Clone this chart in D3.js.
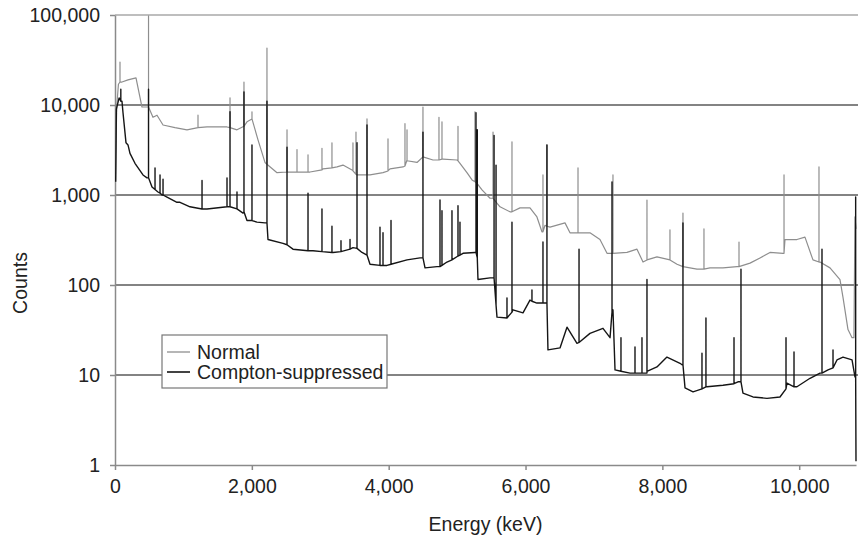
<!DOCTYPE html>
<html>
<head>
<meta charset="utf-8">
<script src="https://cdn.jsdelivr.net/npm/d3@7"></script>
<style>
  body { margin: 0; background: #fff; }
  svg text { font-family: "Liberation Sans", Arial, Helvetica, sans-serif; fill: #222; }
</style>
</head>
<body>
<svg id="chart" width="860" height="538"></svg>
<script>
// tick labels
var xTicks = [0, 2000, 4000, 6000, 8000, 10000];
var yTicks = [1, 10, 100, 1000, 10000, 100000];
var seriesNames = ["Normal", "Compton-suppressed"];

// Normal spectrum: continuum [keV, counts]
var normalCont = [
  [5, 1350], [25, 9500], [50, 17000], [102, 18000], [190, 19000], [307, 20000],
  [394, 9500], [468, 9500], [555, 7300], [614, 7700], [702, 6000], [877, 5600],
  [1052, 5300], [1345, 5700], [1637, 5700], [1783, 5300], [1929, 6500], [2002, 7000],
  [2090, 4100], [2192, 2300], [2368, 1770], [2558, 1800], [2850, 1800], [3040, 1950],
  [3245, 2050], [3332, 2150], [3464, 1900], [3537, 1670], [3727, 1670], [3917, 1770],
  [4019, 1950], [4209, 2050], [4268, 2450], [4414, 2300], [4501, 2650], [4648, 2450],
  [4794, 2500], [4998, 2450], [5042, 2250], [5144, 1770], [5218, 1470], [5291, 1350],
  [5364, 1140], [5481, 920], [5525, 920], [5627, 740], [5773, 650], [5919, 720],
  [6065, 720], [6167, 570], [6240, 390], [6284, 460], [6358, 440], [6577, 490],
  [6650, 380], [6942, 380], [7088, 320], [7191, 225], [7278, 225], [7483, 230],
  [7629, 250], [7717, 180], [7921, 205], [8111, 190], [8214, 170], [8506, 150],
  [8696, 155], [8886, 155], [9091, 160], [9281, 175], [9427, 200], [9573, 230],
  [9763, 225], [9792, 320], [9967, 320], [10084, 340], [10201, 190], [10304, 180],
  [10450, 155], [10596, 115], [10640, 73], [10713, 32], [10772, 26], [10800, 26],
  [10815, 570], [10830, 420]
];
// Normal spectrum: peaks [keV, base, top]
var normalPeaks = [
  [73, 18000, 30000], [490, 9500, 98000], [1213, 5600, 7700], [1681, 5600, 12000],
  [1885, 5800, 18000], [2002, 7000, 8400], [2221, 2200, 43000], [2514, 1800, 5300],
  [2660, 1800, 3200], [2821, 1800, 2800], [3025, 1900, 3300], [3171, 2000, 3800],
  [3478, 1850, 3800], [3522, 1700, 5000], [3683, 1670, 7000], [3990, 1850, 4200],
  [4238, 2100, 6200], [4268, 2400, 5300], [4501, 2650, 9500], [4735, 2450, 7300],
  [4779, 2500, 6500], [5013, 2400, 5800], [5261, 1400, 8400], [5525, 920, 5000],
  [5802, 650, 3900], [6255, 390, 1670], [6313, 450, 3600], [6767, 380, 2000],
  [7278, 225, 1670], [7775, 190, 880], [8111, 190, 410], [8301, 160, 630],
  [8608, 150, 420], [9120, 160, 300], [9778, 225, 1670], [10289, 180, 2050]
];

// Compton-suppressed spectrum: continuum [keV, counts]
var suppCont = [
  [10, 1400], [20, 9000], [60, 12000], [102, 11000], [117, 8200], [161, 3800],
  [190, 3600], [219, 2900], [292, 2250], [409, 1670], [468, 1550], [541, 1230],
  [628, 1080], [687, 1000], [760, 950], [906, 830], [950, 830], [1096, 740],
  [1345, 700], [1637, 740], [1871, 630], [1929, 520], [2075, 500], [2192, 490],
  [2236, 320], [2455, 290], [2601, 250], [2894, 240], [3186, 230], [3478, 260],
  [3610, 230], [3683, 215], [3727, 170], [3975, 165], [4268, 190], [4458, 200],
  [4501, 200], [4531, 155], [4706, 160], [4852, 180], [5086, 225], [5261, 230],
  [5305, 115], [5481, 120], [5525, 120], [5583, 44], [5729, 43], [5817, 53],
  [5963, 49], [6065, 68], [6167, 63], [6284, 63], [6328, 19], [6504, 20],
  [6606, 34], [6752, 22.5], [6942, 29], [7132, 33], [7235, 26], [7278, 53],
  [7308, 11.4], [7527, 10.5], [7775, 10.5], [7921, 12.3], [8067, 15.8], [8258, 13.5],
  [8287, 13], [8331, 7.2], [8448, 6.5], [8652, 7.4], [8886, 7.7], [9105, 8.4],
  [9178, 6.3], [9324, 5.7], [9529, 5.5], [9719, 5.7], [9821, 8.1], [9967, 7.4],
  [10158, 9.2], [10304, 10.5], [10421, 11.4], [10552, 14.7], [10640, 15.8],
  [10772, 14.7], [10815, 9.5], [10830, 1.1]
];
// Compton-suppressed spectrum: peaks [keV, base, top]
var suppPeaks = [
  [85, 11000, 15000], [490, 1550, 15000], [585, 1150, 2000], [658, 1050, 1670],
  [702, 1000, 1500], [1272, 700, 1450], [1637, 740, 1550], [1681, 740, 8400],
  [1783, 700, 1080], [1885, 650, 14000], [2002, 520, 3600], [2221, 490, 11000],
  [2514, 280, 3400], [2821, 240, 1050], [3025, 235, 700], [3171, 230, 450],
  [3303, 235, 310], [3435, 250, 320], [3537, 255, 3800], [3683, 215, 6000],
  [3873, 165, 440], [3917, 165, 380], [4034, 170, 520], [4501, 200, 5000],
  [4750, 160, 880], [4779, 165, 670], [4925, 190, 670], [5013, 210, 760],
  [5042, 215, 500], [5276, 230, 8200], [5295, 200, 5300], [5540, 120, 4600],
  [5569, 60, 2150], [5729, 43, 72], [5802, 50, 500], [6094, 66, 88],
  [6255, 63, 300], [6313, 63, 3600], [6782, 23, 250], [7264, 50, 1400],
  [7395, 11, 26], [7600, 10.5, 20.5], [7702, 10.5, 26], [7775, 11, 115],
  [8301, 13, 490], [8579, 7, 17.5], [8637, 7.4, 43], [9047, 8, 26],
  [9149, 8.4, 150], [9807, 7, 26], [9924, 7.4, 18], [10333, 10.5, 250],
  [10494, 12, 19], [10825, 9.5, 950]
];

// merge continuum and peak spikes into one point list, ordered by energy
function buildSeries(cont, peaks) {
  var pts = cont.map(function (d) { return { e: d[0], c: d[1] }; });
  peaks.forEach(function (p) {
    pts.push({ e: p[0], c: p[1] }, { e: p[0], c: p[2] }, { e: p[0], c: p[1] });
  });
  return pts.sort(function (a, b) { return a.e - b.e; });
}

function drawChart() {
  var svg = d3.select("#chart");
  var left = 115, right = 856, plotTop = 15, bottom = 465;

  var x = d3.scaleLinear().domain([0, 10830]).range([left, right]);
  var y = d3.scaleLog().domain([1, 100000]).range([bottom, plotTop]);
  var fmt = d3.format(",");

  svg.append("defs").append("clipPath").attr("id", "plotclip")
    .append("rect").attr("x", left).attr("y", plotTop - 1)
    .attr("width", right - left + 2).attr("height", bottom - plotTop + 1);

  // horizontal gridlines
  svg.append("g").selectAll("line").data(yTicks.slice(1)).enter().append("line")
    .attr("x1", left).attr("x2", right + 2)
    .attr("y1", function (d) { return y(d); }).attr("y2", function (d) { return y(d); })
    .attr("stroke", function (d) { return d === 100000 ? "#a8a8a8" : "#5a5a5a"; })
    .attr("stroke-width", 1.5);

  // y axis
  var yAxis = svg.append("g").attr("transform", "translate(" + left + ",0)")
    .call(d3.axisLeft(y).tickValues(yTicks).tickFormat(fmt).tickSize(5).tickSizeOuter(0).tickPadding(10));
  yAxis.select(".domain").attr("stroke", "#8a8a8a").attr("stroke-width", 1.5);
  yAxis.selectAll(".tick line").attr("stroke", "#8a8a8a").attr("stroke-width", 1.5);
  yAxis.selectAll("text").attr("font-size", "19.5px").attr("fill", "#222")
    .attr("font-family", "Liberation Sans, Arial, sans-serif");

  // x axis
  var xAxis = svg.append("g").attr("transform", "translate(0," + bottom + ")")
    .call(d3.axisBottom(x).tickValues(xTicks).tickFormat(fmt).tickSize(5).tickSizeOuter(0).tickPadding(9));
  xAxis.select(".domain").attr("stroke", "#8a8a8a").attr("stroke-width", 1.5);
  xAxis.selectAll(".tick line").attr("stroke", "#8a8a8a").attr("stroke-width", 1.5);
  xAxis.selectAll("text").attr("font-size", "19.5px").attr("fill", "#222")
    .attr("font-family", "Liberation Sans, Arial, sans-serif");

  // spectra
  var line = d3.line()
    .x(function (d) { return x(d.e); })
    .y(function (d) { return y(d.c); });

  var plot = svg.append("g").attr("clip-path", "url(#plotclip)");
  plot.append("path").datum(buildSeries(normalCont, normalPeaks))
    .attr("d", line).attr("fill", "none")
    .attr("stroke", "#8e8e8e").attr("stroke-width", 1.2).attr("stroke-linejoin", "round");
  plot.append("path").datum(buildSeries(suppCont, suppPeaks))
    .attr("d", line).attr("fill", "none")
    .attr("stroke", "#151515").attr("stroke-width", 1.4).attr("stroke-linejoin", "round");

  // axis titles
  svg.append("text").attr("x", (left + right) / 2).attr("y", 531)
    .attr("text-anchor", "middle").attr("font-size", "19.5px").text("Energy (keV)");
  svg.append("text").attr("transform", "translate(27,283) rotate(-90)")
    .attr("text-anchor", "middle").attr("font-size", "19.5px").text("Counts");

  // legend
  var legend = svg.append("g").attr("transform", "translate(162,335)");
  legend.append("rect").attr("width", 225).attr("height", 53)
    .attr("fill", "#fff").attr("stroke", "#777").attr("stroke-width", 1.2);
  var legColors = ["#8e8e8e", "#151515"];
  seriesNames.forEach(function (name, i) {
    var ly = 17 + i * 20;
    legend.append("line").attr("x1", 5).attr("x2", 28).attr("y1", ly).attr("y2", ly)
      .attr("stroke", legColors[i]).attr("stroke-width", i ? 1.6 : 1.3);
    legend.append("text").attr("x", 35).attr("y", ly + 7)
      .attr("font-size", "19.5px").text(name);
  });
}

drawChart();
</script>
</body>
</html>
